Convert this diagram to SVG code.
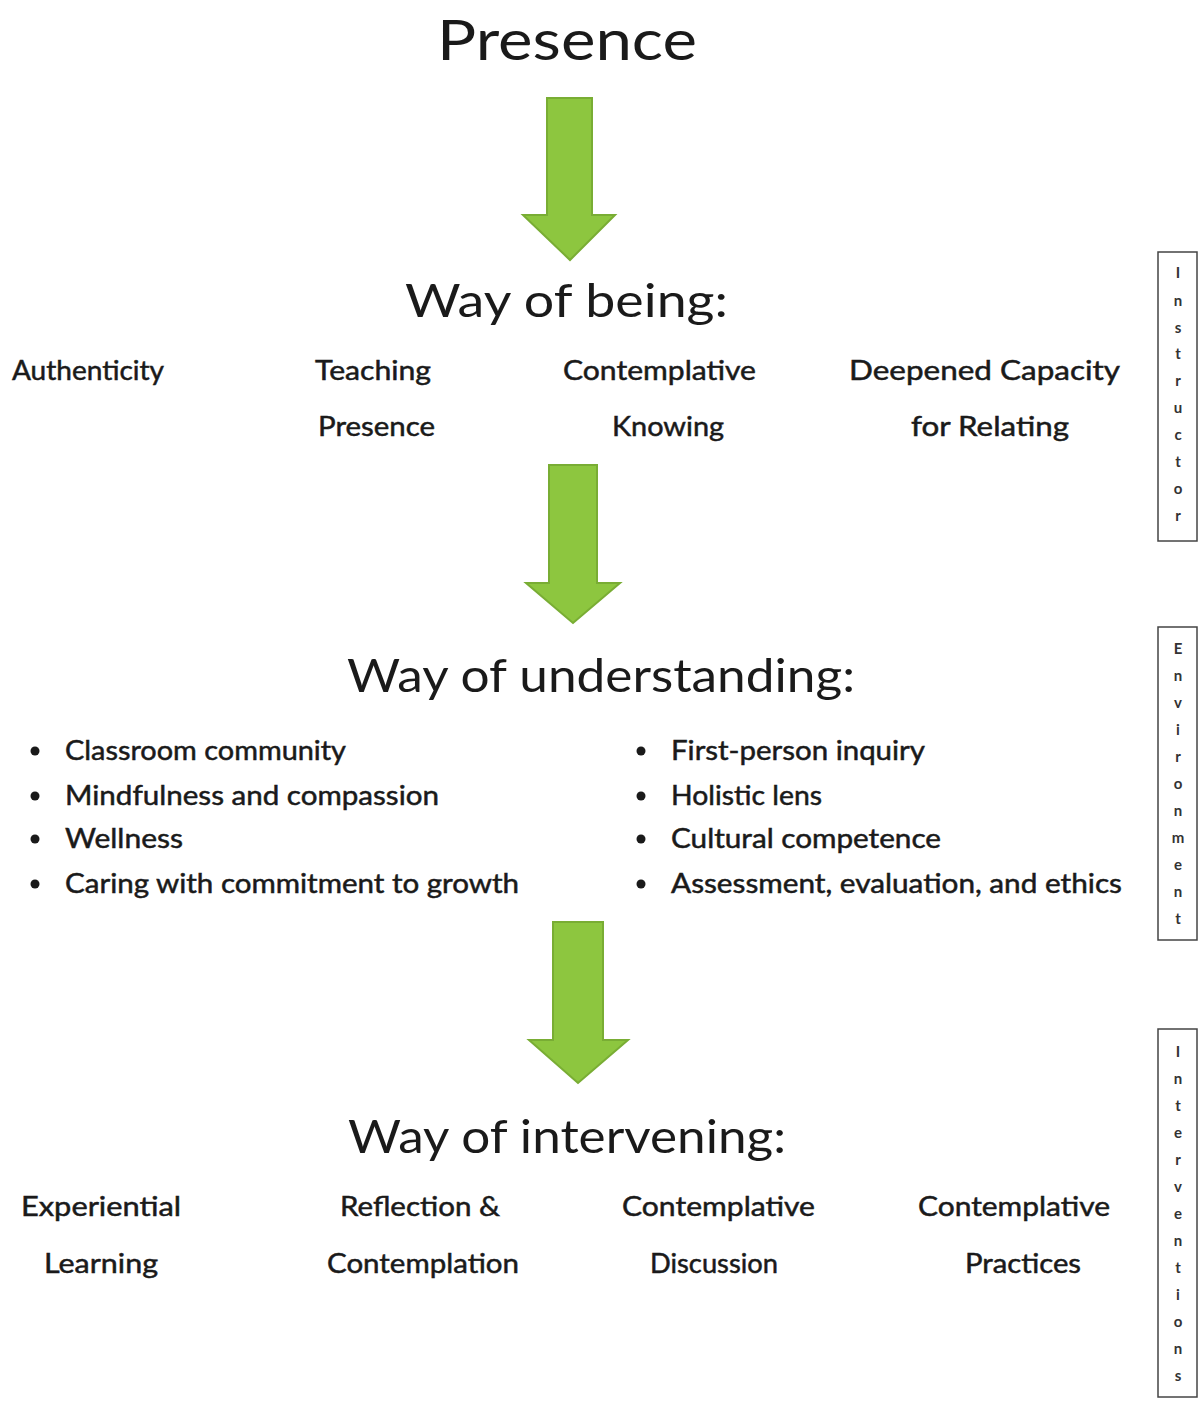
<svg xmlns="http://www.w3.org/2000/svg" width="1201" height="1401" viewBox="0 0 1201 1401">
<style>
text{font-family:"Lato","Open Sans","DejaVu Sans",sans-serif;fill:#1a1a1a}
.title{font-size:57px}
.h{font-size:46px}
.it{font-size:27px;stroke:#1a1a1a;stroke-width:0.5}
.side{font-size:15px;text-anchor:middle;font-weight:bold;fill:#333}
.arrow{fill:#8dc63f;stroke:#79ad34;stroke-width:2}
.box{fill:#fff;stroke:#444;stroke-width:1.5}
</style>
<rect width="1201" height="1401" fill="#fff"/>
<g id="connectors">
<path class="arrow" d="M547,98 H592 V215 H615 L570,260 L523,215 H547 Z"/>
<path class="arrow" d="M549,465 H597 V583 H620 L573,623 L526,583 H549 Z"/>
<path class="arrow" d="M553,922 H603 V1040 H628 L578,1083 L529,1040 H553 Z"/>
</g>
<g id="presence"><text class="title" x="437" y="60" textLength="260" lengthAdjust="spacingAndGlyphs">Presence</text></g>
<g id="being">
<text class="h" x="405" y="317" textLength="323" lengthAdjust="spacingAndGlyphs">Way of being:</text>
<text class="it" x="12" y="380" textLength="152" lengthAdjust="spacingAndGlyphs">Authenticity</text>
<text class="it" x="315" y="380" textLength="116" lengthAdjust="spacingAndGlyphs">Teaching</text>
<text class="it" x="318" y="436" textLength="117" lengthAdjust="spacingAndGlyphs">Presence</text>
<text class="it" x="563" y="380" textLength="193" lengthAdjust="spacingAndGlyphs">Contemplative</text>
<text class="it" x="612" y="436" textLength="112" lengthAdjust="spacingAndGlyphs">Knowing</text>
<text class="it" x="849" y="380" textLength="271" lengthAdjust="spacingAndGlyphs">Deepened Capacity</text>
<text class="it" x="911" y="436" textLength="158" lengthAdjust="spacingAndGlyphs">for Relating</text>
</g>
<g id="understanding">
<text class="h" x="347" y="692" textLength="508" lengthAdjust="spacingAndGlyphs">Way of understanding:</text>
<g fill="#1a1a1a">
<circle cx="35" cy="751" r="4.5"/><circle cx="35" cy="796" r="4.5"/><circle cx="35" cy="839" r="4.5"/><circle cx="35" cy="884" r="4.5"/>
<circle cx="641" cy="751" r="4.5"/><circle cx="641" cy="796" r="4.5"/><circle cx="641" cy="839" r="4.5"/><circle cx="641" cy="884" r="4.5"/>
</g>
<text class="it" x="65" y="760" textLength="281" lengthAdjust="spacingAndGlyphs">Classroom community</text>
<text class="it" x="65" y="805" textLength="374" lengthAdjust="spacingAndGlyphs">Mindfulness and compassion</text>
<text class="it" x="65" y="848" textLength="118" lengthAdjust="spacingAndGlyphs">Wellness</text>
<text class="it" x="65" y="893" textLength="454" lengthAdjust="spacingAndGlyphs">Caring with commitment to growth</text>
<text class="it" x="671" y="760" textLength="254" lengthAdjust="spacingAndGlyphs">First-person inquiry</text>
<text class="it" x="671" y="805" textLength="151" lengthAdjust="spacingAndGlyphs">Holistic lens</text>
<text class="it" x="671" y="848" textLength="270" lengthAdjust="spacingAndGlyphs">Cultural competence</text>
<text class="it" x="671" y="893" textLength="451" lengthAdjust="spacingAndGlyphs">Assessment, evaluation, and ethics</text>
</g>
<g id="intervening">
<text class="h" x="348" y="1153" textLength="438" lengthAdjust="spacingAndGlyphs">Way of intervening:</text>
<text class="it" x="21" y="1216" textLength="160" lengthAdjust="spacingAndGlyphs">Experiential</text>
<text class="it" x="44" y="1273" textLength="114" lengthAdjust="spacingAndGlyphs">Learning</text>
<text class="it" x="340" y="1216" textLength="160" lengthAdjust="spacingAndGlyphs">Reflection &amp;</text>
<text class="it" x="327" y="1273" textLength="192" lengthAdjust="spacingAndGlyphs">Contemplation</text>
<text class="it" x="622" y="1216" textLength="193" lengthAdjust="spacingAndGlyphs">Contemplative</text>
<text class="it" x="650" y="1273" textLength="128" lengthAdjust="spacingAndGlyphs">Discussion</text>
<text class="it" x="918" y="1216" textLength="192" lengthAdjust="spacingAndGlyphs">Contemplative</text>
<text class="it" x="965" y="1273" textLength="116" lengthAdjust="spacingAndGlyphs">Practices</text>
</g>
<g id="instructor">
<rect class="box" x="1158" y="252" width="39" height="289"/>
<text class="side" x="1178" y="278">I</text><text class="side" x="1178" y="306">n</text><text class="side" x="1178" y="333">s</text><text class="side" x="1178" y="359">t</text><text class="side" x="1178" y="386">r</text><text class="side" x="1178" y="413">u</text><text class="side" x="1178" y="440">c</text><text class="side" x="1178" y="467">t</text><text class="side" x="1178" y="494">o</text><text class="side" x="1178" y="521">r</text>
</g>
<g id="environment">
<rect class="box" x="1158" y="627" width="39" height="313"/>
<text class="side" x="1178" y="654">E</text><text class="side" x="1178" y="681">n</text><text class="side" x="1178" y="708">v</text><text class="side" x="1178" y="735">i</text><text class="side" x="1178" y="762">r</text><text class="side" x="1178" y="789">o</text><text class="side" x="1178" y="816">n</text><text class="side" x="1178" y="843">m</text><text class="side" x="1178" y="870">e</text><text class="side" x="1178" y="897">n</text><text class="side" x="1178" y="924">t</text>
</g>
<g id="interventions">
<rect class="box" x="1158" y="1029" width="39" height="368"/>
<text class="side" x="1178" y="1057">I</text><text class="side" x="1178" y="1084">n</text><text class="side" x="1178" y="1111">t</text><text class="side" x="1178" y="1138">e</text><text class="side" x="1178" y="1165">r</text><text class="side" x="1178" y="1192">v</text><text class="side" x="1178" y="1219">e</text><text class="side" x="1178" y="1246">n</text><text class="side" x="1178" y="1273">t</text><text class="side" x="1178" y="1300">i</text><text class="side" x="1178" y="1327">o</text><text class="side" x="1178" y="1354">n</text><text class="side" x="1178" y="1381">s</text>
</g>
</svg>
